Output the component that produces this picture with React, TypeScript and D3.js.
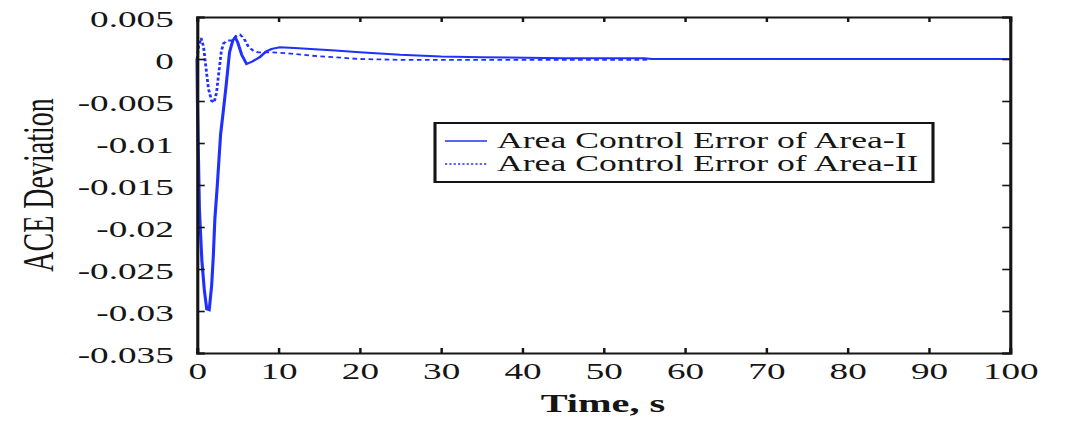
import { useEffect, useRef } from 'react';
import * as d3 from 'd3';

// time (s) and ACE deviation
const timeI = [0, 0.05, 0.3, 0.6, 0.9, 1.2, 1.5, 1.8, 2.0, 2.2, 2.5, 2.7, 2.9, 3.2, 3.6, 4.0, 4.4, 4.7, 5.0, 5.5, 6.1, 6.8, 7.7, 8.5, 9.2, 10.2, 12, 14, 17, 20, 25, 30, 35, 45, 55, 56, 100];
const aceI = [0, -0.005, -0.018, -0.024, -0.0275, -0.0298, -0.0299, -0.027, -0.0236, -0.019, -0.015, -0.012, -0.009, -0.0065, -0.003, 0.0008, 0.0022, 0.0026, 0.002, 0.0005, -0.0006, -0.0003, 0.0002, 0.0009, 0.0012, 0.0014, 0.0013, 0.0012, 0.001, 0.0008, 0.0005, 0.0003, 0.0002, 0.0001, 0.0001, 0, 0];

const timeII = [0, 0.2, 0.5, 0.8, 1.1, 1.4, 1.8, 2.1, 2.4, 2.7, 3.0, 3.3, 3.8, 4.3, 4.8, 5.3, 5.8, 6.3, 6.9, 7.5, 9, 11, 14, 17, 20, 25, 35, 55, 56, 100];
const aceII = [0, 0.0015, 0.0025, 0.0015, -0.001, -0.0035, -0.005, -0.0052, -0.004, -0.0015, 0.001, 0.0019, 0.0022, 0.0022, 0.0027, 0.0029, 0.0024, 0.0015, 0.001, 0.0008, 0.0008, 0.0007, 0.0004, 0.0002, 0, -0.0001, -0.0001, -0.0001, 0, 0];

const xTicks = [0, 10, 20, 30, 40, 50, 60, 70, 80, 90, 100];
const yTicks = [0.005, 0, -0.005, -0.01, -0.015, -0.02, -0.025, -0.03, -0.035];
const yTickLabels = ['0.005', '0', '-0.005', '-0.01', '-0.015', '-0.02', '-0.025', '-0.03', '-0.035'];
const legendLabels = ['Area Control Error of Area-I', 'Area Control Error of Area-II'];

const FULL_W = 1071;
const H = 425;
const SX = 1.55; // the source image is stretched sideways
const W = FULL_W / SX;
const FONT = '"Liberation Serif", "Times New Roman", serif';
const BLUE = '#2030ff';
const INK = '#151515';

export default function App() {
  const svgRef = useRef<SVGSVGElement>(null);

  useEffect(() => {
    const svg = d3.select(svgRef.current);
    svg.selectAll('*').remove();

    const margin = { top: 17, right: W - 1010 / SX, bottom: H - 353, left: 197 / SX };
    const innerWidth = W - margin.left - margin.right;
    const innerHeight = H - margin.top - margin.bottom;

    svg.append('rect').attr('width', W).attr('height', H).attr('fill', '#fff');

    const g = svg.append('g').attr('transform', `translate(${margin.left},${margin.top})`);

    const x = d3.scaleLinear().domain([0, 100]).range([0, innerWidth]);
    const y = d3.scaleLinear().domain([-0.035, 0.005]).range([innerHeight, 0]);

    const line = d3.line<[number, number]>()
      .x(d => x(d[0]))
      .y(d => y(d[1]));

    const seriesI = timeI.map((t, i) => [t, aceI[i]] as [number, number]);
    const seriesII = timeII.map((t, i) => [t, aceII[i]] as [number, number]);

    g.append('path')
      .attr('d', line(seriesI))
      .attr('fill', 'none')
      .attr('stroke', BLUE)
      .attr('stroke-width', 2);

    g.append('path')
      .attr('d', line(seriesII))
      .attr('fill', 'none')
      .attr('stroke', BLUE)
      .attr('stroke-width', 1.8)
      .attr('stroke-dasharray', '3,2.2');

    // axes box with inward ticks
    const tickLen = 5;
    const bottom = g.append('g').attr('transform', `translate(0,${innerHeight})`)
      .call(d3.axisBottom(x).tickValues(xTicks).tickSize(-tickLen).tickPadding(tickLen + 8).tickFormat(d3.format('d')));
    const top = g.append('g')
      .call(d3.axisTop(x).tickValues(xTicks).tickSize(-tickLen).tickFormat(() => ''));
    const left = g.append('g')
      .call(d3.axisLeft(y).tickValues(yTicks).tickSize(-tickLen).tickPadding(tickLen + 10)
        .tickFormat((d, i) => yTickLabels[i]));
    const right = g.append('g').attr('transform', `translate(${innerWidth},0)`)
      .call(d3.axisRight(y).tickValues(yTicks).tickSize(-tickLen).tickFormat(() => ''));

    [bottom, top, left, right].forEach(a => {
      a.select('.domain').attr('stroke', INK).attr('stroke-width', 2);
      a.selectAll('.tick line').attr('stroke', INK).attr('stroke-width', 1.6);
      a.selectAll('.tick text')
        .attr('fill', INK)
        .style('font-family', FONT)
        .style('font-size', '24px');
    });
    // hide the tick stubs sitting on the corners
    [top, right].forEach(a => a.selectAll('.tick text').remove());
    left.selectAll('.tick text').attr('dy', '0.38em');
    bottom.selectAll('.tick text').attr('dy', '0.55em');

    // legend
    const lg = svg.append('g');
    const boxL = 435 / SX;
    const boxR = 933 / SX;
    lg.append('rect')
      .attr('x', boxL)
      .attr('y', 123)
      .attr('width', boxR - boxL)
      .attr('height', 59)
      .attr('fill', '#fff')
      .attr('stroke', INK)
      .attr('stroke-width', 2);

    legendLabels.forEach((label, i) => {
      const ly = 141 + i * 23;
      lg.append('line')
        .attr('x1', 445 / SX)
        .attr('x2', 487 / SX)
        .attr('y1', ly)
        .attr('y2', ly)
        .attr('stroke', BLUE)
        .attr('stroke-width', 1.6)
        .attr('stroke-dasharray', i === 1 ? '1.4,1.4' : null);
      lg.append('text')
        .attr('x', 497 / SX)
        .attr('y', ly + 7.5)
        .attr('fill', INK)
        .style('font-family', FONT)
        .style('font-size', '23px')
        .text(label);
    });

    // axis titles
    svg.append('text')
      .attr('x', 603 / SX)
      .attr('y', 412)
      .attr('text-anchor', 'middle')
      .attr('fill', INK)
      .style('font-family', FONT)
      .style('font-size', '26px')
      .style('font-weight', 'bold')
      .text('Time, s');

    const lx = 53 / SX;
    svg.append('text')
      .attr('transform', `translate(${lx},185) rotate(-90)`)
      .attr('text-anchor', 'middle')
      .attr('fill', INK)
      .style('font-family', FONT)
      .style('font-size', '28px')
      .text('ACE Deviation');
  }, []);

  return (
    <svg
      ref={svgRef}
      width={FULL_W}
      height={H}
      viewBox={`0 0 ${W} ${H}`}
      preserveAspectRatio="none"
      style={{ position: 'absolute', left: 0, top: 0, display: 'block' }}
    />
  );
}
